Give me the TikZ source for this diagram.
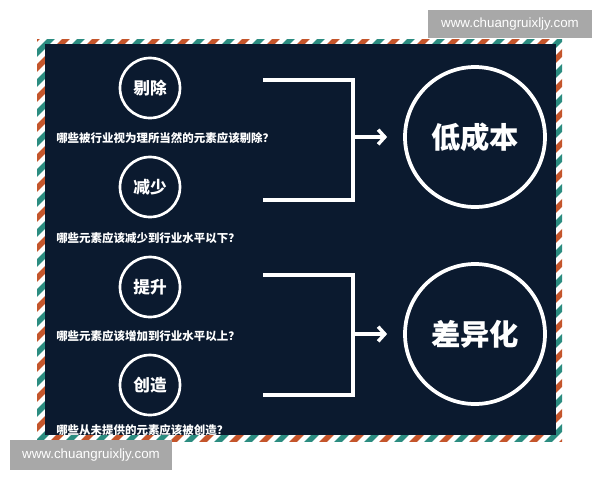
\documentclass[tikz,border=0pt]{standalone}
\usepackage{fontspec}
\setmainfont{Liberation Sans}
\newfontfamily\cjk{Noto Sans CJK SC}
\usetikzlibrary{positioning, calc}
\usetikzlibrary{arrows.meta}
\definecolor{navy}{HTML}{0B1A2F}
\definecolor{stripeteal}{HTML}{2B8C80}
\definecolor{stripered}{HTML}{C4552B}
\definecolor{markgray}{HTML}{A8A8A8}
\tikzset{
  smallring/.style={circle, draw=white, line width=2pt, minimum size=45pt, inner sep=0pt,
    text=white, font=\cjk\bfseries\fontsize{12.5pt}{14pt}\selectfont},
  bigring/.style={circle, draw=white, line width=2.8pt, minimum size=105pt, inner sep=0pt,
    text=white, font=\cjk\bfseries\fontsize{22pt}{24pt}\selectfont},
  question/.style={anchor=west, inner sep=0pt, text=white,
    font=\cjk\bfseries\fontsize{8.6pt}{10pt}\selectfont},
  bracket/.style={draw=white, line width=2.6pt},
  arr/.style={draw=white, line width=2.6pt, -{Straight Barb[length=5pt,width=11pt]}, shorten >=12pt},
  webmark/.style={fill=markgray, text=white, inner sep=0pt, font=\fontsize{10pt}{12pt}\selectfont}
}
\begin{document}
\begin{tikzpicture}[x=0.75pt, y=-0.75pt]
  \useasboundingbox (0,0) rectangle (600,480);
  \fill[white] (0,0) rectangle (600,480);
  % striped frame
  \begin{scope}
    \clip (37,39) rectangle (562,441);
    \foreach \c in {0,30,...,1080} {
      \draw[stripeteal, line width=4pt] (\c,0) -- (0,\c);
      \draw[stripered, line width=4pt] (\c+15,0) -- (0,\c+15);
    }
  \end{scope}
  \fill[navy] (45,44) rectangle (556,435);
  % four actions
  \node[smallring] (cut) at (150,88) {剔除};
  \node[question] (q1) at (56,138) {哪些被行业视为理所当然的元素应该剔除？};
  \node[smallring] (less) at (150,187) {减少};
  \node[question] (q2) at (56,238) {哪些元素应该减少到行业水平以下？};
  \node[smallring] (raise) at (150,287) {提升};
  \node[question] (q3) at (56,336) {哪些元素应该增加到行业水平以上？};
  \node[smallring] (make) at (150,385) {创造};
  \node[question] (q4) at (56,430) {哪些从未提供的元素应该被创造？};
  % results
  \node[bigring] (low) at (475,137) {低成本};
  \node[bigring] (diff) at (475,334) {差异化};
  % brackets
  \coordinate (b1a) at (263,80);
  \coordinate (b1b) at (353,80);
  \coordinate (b1c) at (353,200);
  \coordinate (b1d) at (263,200);
  \coordinate (b1m) at (353,137);
  \coordinate (b2a) at (263,275);
  \coordinate (b2b) at (353,275);
  \coordinate (b2c) at (353,395);
  \coordinate (b2d) at (263,395);
  \coordinate (b2m) at (353,334);
  \draw[bracket] (b1a) -- (b1b) -- (b1c) -- (b1d);
  \draw[bracket] (b2a) -- (b2b) -- (b2c) -- (b2d);
  \draw[arr] (b1m) -- (low);
  \draw[arr] (b2m) -- (diff);
  % watermarks
  \node[webmark, minimum width=123pt, minimum height=21pt] (mark1) at (510,24) {www.chuangruixljy.com};
  \node[webmark, minimum width=121.5pt, minimum height=22pt] (mark2) at (91,455) {www.chuangruixljy.com};
\end{tikzpicture}
\end{document}
